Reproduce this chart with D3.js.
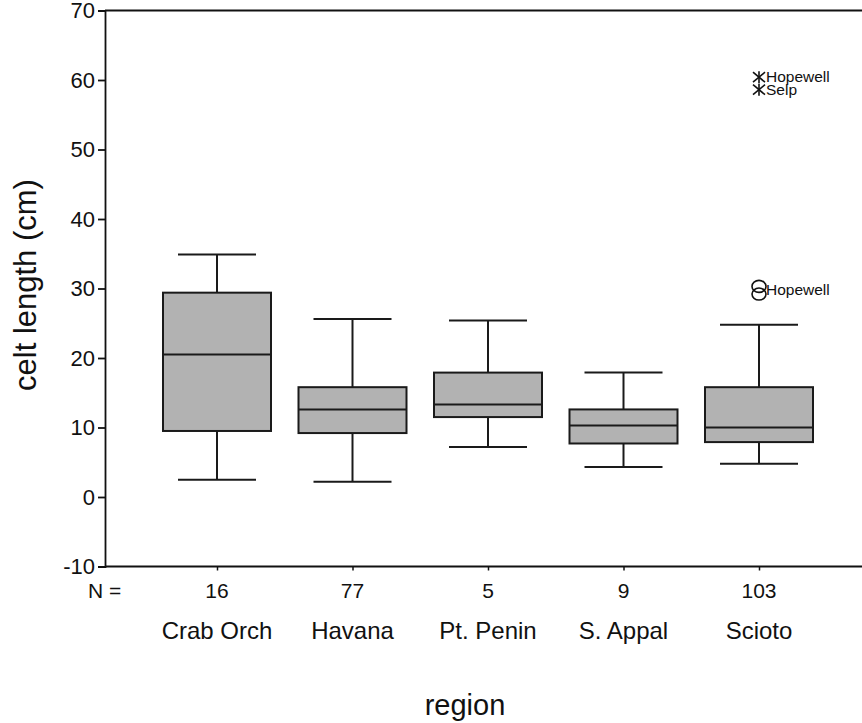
<!DOCTYPE html>
<html>
<head>
<meta charset="utf-8">
<script src="https://cdn.jsdelivr.net/npm/d3@7"></script>
<style>
  body { margin: 0; background: #fff; }
  svg text { font-family: "Liberation Sans", Arial, sans-serif; fill: #111; }
</style>
</head>
<body>
<svg id="chart" width="862" height="723"></svg>
<script>
// data
const regions = ["Crab Orch", "Havana", "Pt. Penin", "S. Appal", "Scioto"];
const counts = [16, 77, 5, 9, 103];
const whiskerLow = [2.5, 2.2, 7.2, 4.3, 4.8];
const q1 = [9.5, 9.2, 11.5, 7.7, 7.9];
const median = [20.5, 12.6, 13.3, 10.3, 10.0];
const q3 = [29.4, 15.8, 17.9, 12.6, 15.8];
const whiskerHigh = [34.9, 25.6, 25.4, 17.9, 24.8];

// outliers (o) and extremes (*) for Scioto
const outliers = [{ region: "Scioto", value: 30.3, label: "Hopewell" }, { region: "Scioto", value: 29.2, label: "" }];
const extremes = [{ region: "Scioto", value: 60.4, label: "Hopewell" }, { region: "Scioto", value: 58.6, label: "Selp" }];

const yTicks = [-10, 0, 10, 20, 30, 40, 50, 60, 70];

const svg = d3.select("#chart");
const plotLeft = 105, plotTop = 10.5, plotBottom = 566.5, plotRight = 862;
const boxWidth = 108, capWidth = 78;

const x = d3.scalePoint().domain(regions).range([217, 759]);
const y = d3.scaleLinear().domain([-10, 70]).range([plotBottom, plotTop]);

const boxes = regions.map((r, i) => ({
  region: r, n: counts[i], lo: whiskerLow[i], q1: q1[i], med: median[i], q3: q3[i], hi: whiskerHigh[i]
}));

// frame line at top
svg.append("line").attr("x1", plotLeft).attr("x2", plotRight).attr("y1", plotTop).attr("y2", plotTop)
  .attr("stroke", "#111").attr("stroke-width", 1.8);

// y axis
const yAxis = svg.append("g").attr("transform", `translate(${plotLeft},0)`)
  .call(d3.axisLeft(y).tickValues(yTicks).tickSize(7).tickPadding(3).tickFormat(d => String(d)));
yAxis.select(".domain").attr("stroke", "#111").attr("stroke-width", 1.8);
yAxis.selectAll(".tick line").attr("stroke", "#111").attr("stroke-width", 1.8);
yAxis.selectAll(".tick text").attr("font-size", 22).attr("fill", "#111")
  .style("font-family", "Liberation Sans, Arial, sans-serif");

// x axis (bottom line with small ticks at box centers)
const xAxis = svg.append("g").attr("transform", `translate(0,${plotBottom})`)
  .call(d3.axisBottom(x).tickSize(4).tickFormat(""));
xAxis.select(".domain").remove();
xAxis.selectAll(".tick line").attr("stroke", "#111").attr("stroke-width", 1.5);
svg.append("line").attr("x1", plotLeft).attr("x2", plotRight).attr("y1", plotBottom).attr("y2", plotBottom)
  .attr("stroke", "#111").attr("stroke-width", 1.8);

// N = row
svg.append("text").attr("x", 88).attr("y", 598).attr("font-size", 21).text("N =");
svg.selectAll(".nlab").data(boxes).join("text").attr("class", "nlab")
  .attr("x", d => x(d.region)).attr("y", 598).attr("text-anchor", "middle")
  .attr("font-size", 21).text(d => d.n);

// category labels
svg.selectAll(".cat").data(boxes).join("text").attr("class", "cat")
  .attr("x", d => x(d.region)).attr("y", 639).attr("text-anchor", "middle")
  .attr("font-size", 24).text(d => d.region);

// axis titles
svg.append("text").attr("x", 465).attr("y", 715).attr("text-anchor", "middle")
  .attr("font-size", 29).text("region");
svg.append("text").attr("transform", "translate(36,285) rotate(-90)").attr("text-anchor", "middle")
  .attr("font-size", 31).text("celt length (cm)");

// boxplots
const g = svg.append("g").attr("stroke", "#1a1a1a").attr("stroke-width", 2);
const bx = g.selectAll(".box").data(boxes).join("g").attr("class", "box");
bx.append("line").attr("x1", d => x(d.region)).attr("x2", d => x(d.region))
  .attr("y1", d => y(d.hi)).attr("y2", d => y(d.q3));
bx.append("line").attr("x1", d => x(d.region)).attr("x2", d => x(d.region))
  .attr("y1", d => y(d.q1)).attr("y2", d => y(d.lo));
bx.append("line").attr("x1", d => x(d.region) - capWidth / 2).attr("x2", d => x(d.region) + capWidth / 2)
  .attr("y1", d => y(d.hi)).attr("y2", d => y(d.hi));
bx.append("line").attr("x1", d => x(d.region) - capWidth / 2).attr("x2", d => x(d.region) + capWidth / 2)
  .attr("y1", d => y(d.lo)).attr("y2", d => y(d.lo));
bx.append("rect").attr("x", d => x(d.region) - boxWidth / 2).attr("width", boxWidth)
  .attr("y", d => y(d.q3)).attr("height", d => y(d.q1) - y(d.q3)).attr("fill", "#b2b2b2");
bx.append("line").attr("x1", d => x(d.region) - boxWidth / 2).attr("x2", d => x(d.region) + boxWidth / 2)
  .attr("y1", d => y(d.med)).attr("y2", d => y(d.med));

// outliers
svg.selectAll(".out").data(outliers).join("ellipse").attr("class", "out")
  .attr("cx", d => x(d.region)).attr("cy", d => y(d.value)).attr("rx", 7).attr("ry", 6)
  .attr("fill", "none").attr("stroke", "#111").attr("stroke-width", 1.6);
svg.selectAll(".outlab").data(outliers.filter(d => d.label)).join("text").attr("class", "outlab")
  .attr("x", d => x(d.region) + 7).attr("y", d => y(d.value) + 9)
  .attr("font-size", 15.5).text(d => d.label);

// extremes
const star = svg.selectAll(".ext").data(extremes).join("g").attr("class", "ext")
  .attr("transform", d => `translate(${x(d.region)},${y(d.value)})`)
  .attr("stroke", "#111").attr("stroke-width", 1.6);
star.append("line").attr("x1", -6).attr("x2", 6).attr("y1", -5).attr("y2", 5);
star.append("line").attr("x1", -6).attr("x2", 6).attr("y1", 5).attr("y2", -5);
star.append("line").attr("x1", 0).attr("x2", 0).attr("y1", -6).attr("y2", 6);
svg.selectAll(".extlab").data(extremes).join("text").attr("class", "extlab")
  .attr("x", d => x(d.region) + 7).attr("y", d => y(d.value) + 5)
  .attr("font-size", 15.5).text(d => d.label);
</script>
</body>
</html>
